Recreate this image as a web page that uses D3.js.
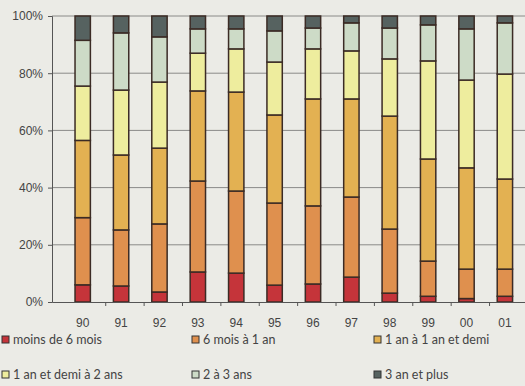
<!DOCTYPE html>
<html>
<head>
<meta charset="utf-8">
<script src="https://cdn.jsdelivr.net/npm/d3@7"></script>
<style>
  body { margin: 0; background: #ebebe6; }
  svg { display: block; font-family: Lato, "Open Sans", sans-serif; }
</style>
</head>
<body>
<div id="chart"></div>
<script>
// years on the x axis
const years = ["90", "91", "92", "93", "94", "95", "96", "97", "98", "99", "00", "01"];

// share (%) of each duration class, bottom to top
const moins6mois   = [6.0, 5.6, 3.5, 10.5, 10.1, 5.9, 6.3, 8.7, 3.1, 2.0, 1.2, 2.0];
const sixMoisA1an  = [23.5, 19.6, 23.8, 31.8, 28.7, 28.7, 27.3, 28.0, 22.4, 12.3, 10.3, 9.5];
const unAnA1anDemi = [27.0, 26.2, 26.5, 31.5, 34.6, 30.8, 37.4, 34.3, 39.5, 35.7, 35.4, 31.5];
const unAnDemiA2   = [19.0, 22.7, 23.1, 13.2, 15.1, 18.5, 17.5, 16.8, 20.0, 34.3, 30.7, 36.7];
const deuxA3ans    = [16.0, 20.0, 15.8, 8.5, 7.0, 10.9, 7.3, 9.8, 10.8, 12.6, 17.9, 17.9];
const troisEtPlus  = [8.5, 5.9, 7.3, 4.5, 4.5, 5.2, 4.2, 2.4, 4.2, 3.1, 4.5, 2.4];

const seriesNames = ["moins de 6 mois", "6 mois à 1 an", "1 an à 1 an et demi",
  "1 an et demi à 2 ans", "2 à 3 ans", "3 an et plus"];
const yTicks = [0, 20, 40, 60, 80, 100];

(function(){
  const svgWidth = 525, svgHeight = 386;
  const colors = ["#c5343a", "#df904e", "#e3b152", "#eeed9e", "#cddbc7", "#566260"];
  const seriesValues = [moins6mois, sixMoisA1an, unAnA1anDemi, unAnDemiA2, deuxA3ans, troisEtPlus];

  // table for d3.stack
  const table = years.map((y, i) => {
    let row = { year: y };
    seriesNames.forEach((s, k) => row[s] = seriesValues[k][i]);
    return row;
  });
  const stacked = d3.stack().keys(seriesNames).offset(d3.stackOffsetExpand)(table);

  const svg = d3.select("#chart").append("svg")
    .attr("width", svgWidth).attr("height", svgHeight);

  const left = 52, top = 16, bottom = 302;
  const x = d3.scaleBand().domain(years).range([left, left + 12 * 40.3]).padding(0.6);
  const y = d3.scaleLinear().domain([0, 100]).range([bottom, top]);

  // grid lines
  svg.append("g").selectAll("line").data(yTicks.slice(1)).join("line")
    .attr("x1", left).attr("x2", svgWidth)
    .attr("y1", d => y(d)).attr("y2", d => y(d))
    .attr("stroke", "#8a8a88").attr("stroke-width", 1);

  // bars
  svg.append("g").selectAll("g").data(stacked).join("g")
    .attr("fill", (d, i) => colors[i])
    .selectAll("rect").data(d => d).join("rect")
      .attr("x", d => x(d.data.year))
      .attr("width", x.bandwidth())
      .attr("y", d => y(d[1] * 100))
      .attr("height", d => y(d[0] * 100) - y(d[1] * 100))
      .attr("stroke", "#3b2b25").attr("stroke-width", 1.5);

  // y axis
  const yAxis = svg.append("g").attr("transform", `translate(${left},0)`)
    .call(d3.axisLeft(y).tickValues(yTicks).tickFormat(d => d + "%").tickSize(4).tickPadding(5));
  yAxis.select(".domain").attr("stroke", "#555");
  yAxis.selectAll(".tick line").attr("stroke", "#555");
  yAxis.selectAll("text").attr("font-size", 12).attr("fill", "#444");

  // x axis with ticks between bars
  const xAxis = svg.append("g").attr("transform", `translate(0,${bottom})`)
    .call(d3.axisBottom(x).tickSize(0).tickPadding(16));
  xAxis.select(".domain").attr("stroke", "#555");
  xAxis.selectAll("text").attr("font-size", 12).attr("fill", "#444");
  xAxis.selectAll(".sep").data(years).join("line").attr("class", "sep")
    .attr("x1", d => x(d) + x.step() * 0.8).attr("x2", d => x(d) + x.step() * 0.8)
    .attr("y1", 0).attr("y2", 4).attr("stroke", "#555");

  // legend
  const legendX = [2, 192, 374], legendY = [340, 375];
  const legend = svg.append("g").selectAll("g").data(seriesNames).join("g")
    .attr("transform", (d, i) => `translate(${legendX[i % 3]},${legendY[Math.floor(i / 3)]})`);
  legend.append("rect")
    .attr("x", 0).attr("y", -4).attr("width", 7).attr("height", 7)
    .attr("fill", (d, i) => colors[i]).attr("stroke", "#333").attr("stroke-width", 1);
  legend.append("text")
    .attr("x", 11).attr("dy", "0.35em")
    .attr("font-size", 12.5).attr("fill", "#444")
    .text(d => d);
})();
</script>
</body>
</html>
